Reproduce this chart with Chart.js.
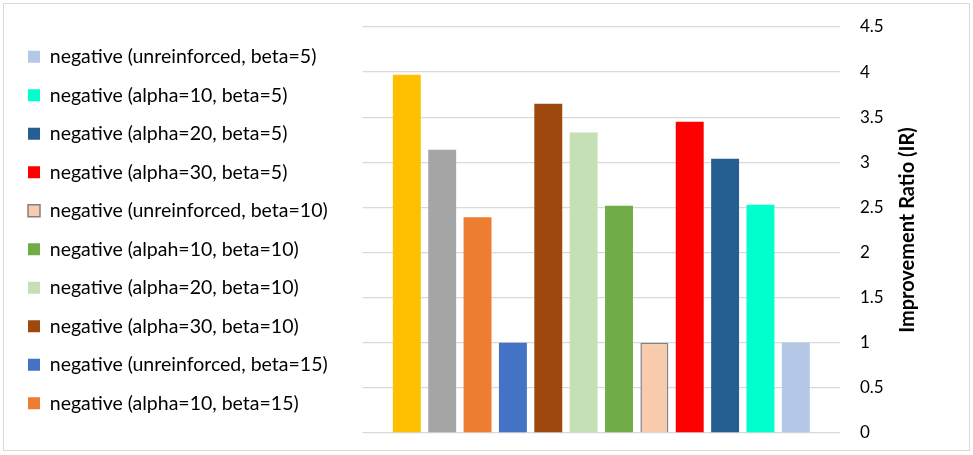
<!DOCTYPE html>
<html>
<head>
<meta charset="utf-8">
<title>Improvement Ratio</title>
<script src="https://cdn.jsdelivr.net/npm/chart.js@4.4.1/dist/chart.umd.min.js"></script>
<style>
    html, body { margin: 0; padding: 0; background: #fff; }
    #wrap {
        position: absolute; left: 3px; top: 3px;
        width: 967px; height: 448px;
        border: 1px solid #d9d9d9; box-sizing: border-box;
    }
</style>
</head>
<body>
<div id="wrap"><canvas id="irChart"></canvas></div>
<script>
// bars, left to right
const categories = [''];
const seriesNames = [
    'negative (alpha=30, beta=15)',
    'negative (alpha=20, beta=15)',
    'negative (alpha=10, beta=15)',
    'negative (unreinforced, beta=15)',
    'negative (alpha=30, beta=10)',
    'negative (alpha=20, beta=10)',
    'negative (alpah=10, beta=10)',
    'negative (unreinforced, beta=10)',
    'negative (alpha=30, beta=5)',
    'negative (alpha=20, beta=5)',
    'negative (alpha=10, beta=5)',
    'negative (unreinforced, beta=5)'
];
const seriesValues = [3.97, 3.14, 2.39, 1.0, 3.65, 3.33, 2.52, 1.0, 3.45, 3.04, 2.53, 1.0];
const seriesColors = ['#FFC000', '#A5A5A5', '#ED7D31', '#4472C4', '#9E480E', '#C5E0B4',
                      '#70AD47', '#F8CBAD', '#FF0000', '#255E91', '#00FFCC', '#B4C7E7'];
const outlined = [7]; // unreinforced beta=10 has a grey outline
const axisTitle = 'Improvement Ratio (IR)';
const FONT = "Lato, 'Open Sans', sans-serif";

Chart.defaults.font.family = FONT;
Chart.defaults.color = '#000';

const datasets = seriesNames.map((name, i) => ({
    label: name,
    data: [seriesValues[i]],
    backgroundColor: seriesColors[i],
    borderColor: outlined.includes(i) ? '#808080' : seriesColors[i],
    borderWidth: outlined.includes(i) ? 1.5 : 0,
    categoryPercentage: 0.889,
    barPercentage: 0.79
}));

// y title reads bottom-to-top on the right side
const axisTitlePlugin = {
    id: 'axisTitle',
    afterDraw(chart) {
        const { ctx, chartArea, scales } = chart;
        ctx.save();
        ctx.translate(scales.y.left + 68, (chartArea.top + chartArea.bottom) / 2);
        ctx.rotate(-Math.PI / 2);
        ctx.font = 'bold 20px ' + FONT;
        ctx.fillStyle = '#000';
        ctx.textAlign = 'center';
        ctx.textBaseline = 'middle';
        ctx.fillText(axisTitle, 0, 0);
        ctx.restore();
    }
};

// leave some white space between the legend and the plot
const legendGapPlugin = {
    id: 'legendGap',
    afterInit(chart) {
        const legend = chart.legend;
        const fit = legend.fit;
        legend.fit = function () {
            fit.call(this);
            this.width += 25;
        };
    }
};

new Chart(document.getElementById('irChart'), {
    type: 'bar',
    data: { labels: categories, datasets: datasets },
    options: {
        responsive: true,
        maintainAspectRatio: false,
        animation: false,
        layout: { padding: { left: 5, right: 79, top: 23, bottom: 17 } },
        plugins: {
            tooltip: { enabled: false },
            legend: {
                position: 'left',
                reverse: true,
                maxWidth: 420,
                labels: {
                    boxWidth: 12,
                    boxHeight: 12,
                    padding: 19,
                    font: { size: 19.5 },
                    color: '#000',
                    // only the first ten entries fit in the original legend
                    filter: item => item.datasetIndex >= 2
                }
            }
        },
        scales: {
            x: { display: false },
            y: {
                position: 'right',
                min: 0,
                max: 4.5,
                afterFit: s => { s.width = 50; },
                ticks: {
                    stepSize: 0.5,
                    padding: 0,
                    font: { size: 17 },
                    color: '#000',
                    callback: v => String(v)
                },
                grid: {
                    color: '#d9d9d9',
                    lineWidth: 1.3,
                    drawTicks: true,
                    tickLength: 20,
                    tickColor: 'rgba(0,0,0,0)'
                },
                border: { display: false }
            }
        }
    },
    plugins: [axisTitlePlugin, legendGapPlugin]
});
</script>
</body>
</html>
